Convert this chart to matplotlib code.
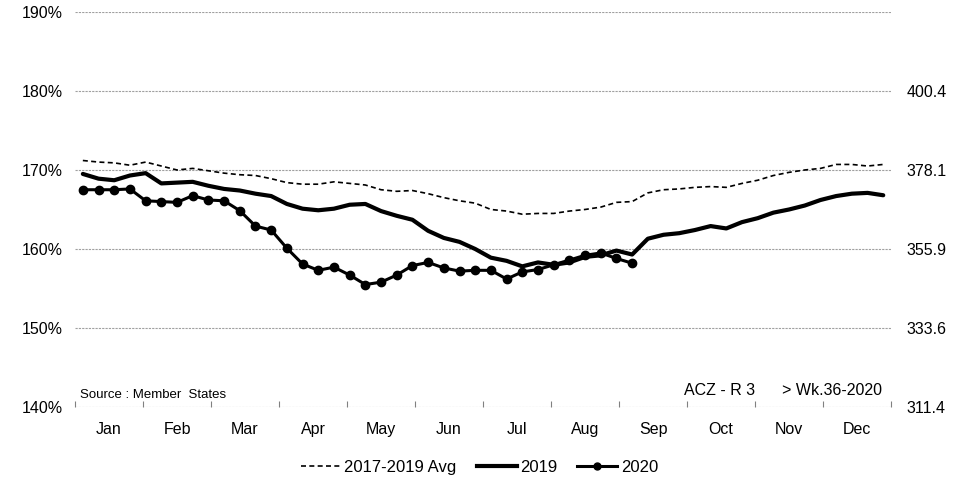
import numpy as np
import matplotlib
matplotlib.use("Agg")
import matplotlib.pyplot as plt
from matplotlib.lines import Line2D

plt.rcParams['font.family'] = ['Liberation Sans', 'DejaVu Sans']

#---- Donnees hebdomadaires (% )
months = ["Jan", "Feb", "Mar", "Apr", "May", "Jun", "Jul", "Aug", "Sep", "Oct", "Nov", "Dec"]

avg_1719 = [171.2, 171.0, 170.9, 170.6, 171.0, 170.5, 170.0, 170.2, 169.9, 169.6,
            169.4, 169.3, 168.9, 168.4, 168.2, 168.2, 168.5, 168.3, 168.1, 167.5,
            167.3, 167.4, 167.0, 166.5, 166.1, 165.8, 165.0, 164.8, 164.4, 164.5,
            164.5, 164.8, 165.0, 165.3, 165.9, 166.0, 167.1, 167.5, 167.6, 167.8,
            167.9, 167.8, 168.3, 168.7, 169.3, 169.7, 170.0, 170.2, 170.7, 170.7,
            170.5, 170.7]

y2019 = [169.5, 168.9, 168.7, 169.3, 169.6, 168.3, 168.4, 168.5, 168.0, 167.6,
         167.4, 167.0, 166.7, 165.7, 165.1, 164.9, 165.1, 165.6, 165.7, 164.8,
         164.2, 163.7, 162.3, 161.4, 160.9, 160.0, 158.9, 158.5, 157.8, 158.3,
         158.0, 158.3, 159.0, 159.2, 159.8, 159.3, 161.3, 161.8, 162.0, 162.4,
         162.9, 162.6, 163.4, 163.9, 164.6, 165.0, 165.5, 166.2, 166.7, 167.0,
         167.1, 166.8]

y2020 = [167.5, 167.5, 167.5, 167.6, 166.1, 166.0, 165.9, 166.75, 166.2, 166.1,
         164.85, 162.9, 162.4, 160.1, 158.1, 157.3, 157.7, 156.7, 155.5, 155.8,
         156.7, 157.9, 158.3, 157.6, 157.2, 157.3, 157.3, 156.2, 157.1, 157.4,
         158.0, 158.6, 159.2, 159.5, 158.8, 158.2]

left_ticks = [140, 150, 160, 170, 180, 190]
right_labels = ["311.4", "333.6", "355.9", "378.1", "400.4"]

#---- Figure
fig = plt.figure(figsize=(9.59, 4.78), dpi=100)
ax = fig.add_axes([0.0782, 0.1485, 0.851, 0.8265])

wk = np.arange(len(avg_1719)) + 0.5
wk20 = np.arange(len(y2020)) + 0.5

ax.plot(wk, avg_1719, color='black', lw=1.2, dashes=(3, 2))
ax.plot(wk, y2019, color='black', lw=3.0, solid_joinstyle='round', solid_capstyle='round')
ax.plot(wk20, y2020, color='black', lw=2.2, marker='o', ms=6, solid_joinstyle='round')

ax.set_xlim(0, 52)
ax.set_ylim(140, 190)

#---- Axe gauche
ax.set_yticks(left_ticks)
ax.set_yticklabels([f"{v}%" for v in left_ticks], fontsize=11.5)
ax.tick_params(axis='y', length=0, pad=9)
for v in left_ticks:
    ax.axhline(v, color='#a0a0a0', lw=0.8, ls=(0, (2, 1)), zorder=0)

#---- Axe x : mois
bounds = np.arange(13) * 52 / 12
ax.set_xticks(bounds)
ax.set_xticklabels([])
ax.set_xticks((bounds[:-1] + bounds[1:]) / 2, minor=True)
ax.set_xticklabels(months, minor=True, fontsize=11.5)
ax.tick_params(axis='x', which='major', direction='in', length=4, color='#808080')
ax.tick_params(axis='x', which='minor', length=0, pad=11)

for s in ax.spines.values():
    s.set_visible(False)

#---- Axe droit
ax2 = ax.twinx()
ax2.set_ylim(140, 190)
ax2.set_yticks(left_ticks[:-1])
ax2.set_yticklabels(right_labels, fontsize=11.5)
ax2.tick_params(axis='y', length=0, pad=11)
for s in ax2.spines.values():
    s.set_visible(False)

#---- Textes
ax.text(0.3, 140.8, "Source : Member  States", fontsize=9.5, ha='left', va='bottom')
ax.text(51.4, 141.2, "ACZ - R 3      > Wk.36-2020", fontsize=11.5, ha='right', va='bottom')

#---- Legende
handles = [Line2D([], [], color='black', lw=1.2, dashes=(3, 2)),
           Line2D([], [], color='black', lw=3.0),
           Line2D([], [], color='black', lw=2.2, marker='o', ms=5)]
fig.legend(handles, ["2017-2019 Avg", "2019", "2020"], loc='center',
           bbox_to_anchor=(0.5, 0.022), ncol=3, frameon=False, fontsize=12,
           handlelength=2.4, handletextpad=0.2, columnspacing=1.2)

fig.savefig("out.png", dpi=100)
